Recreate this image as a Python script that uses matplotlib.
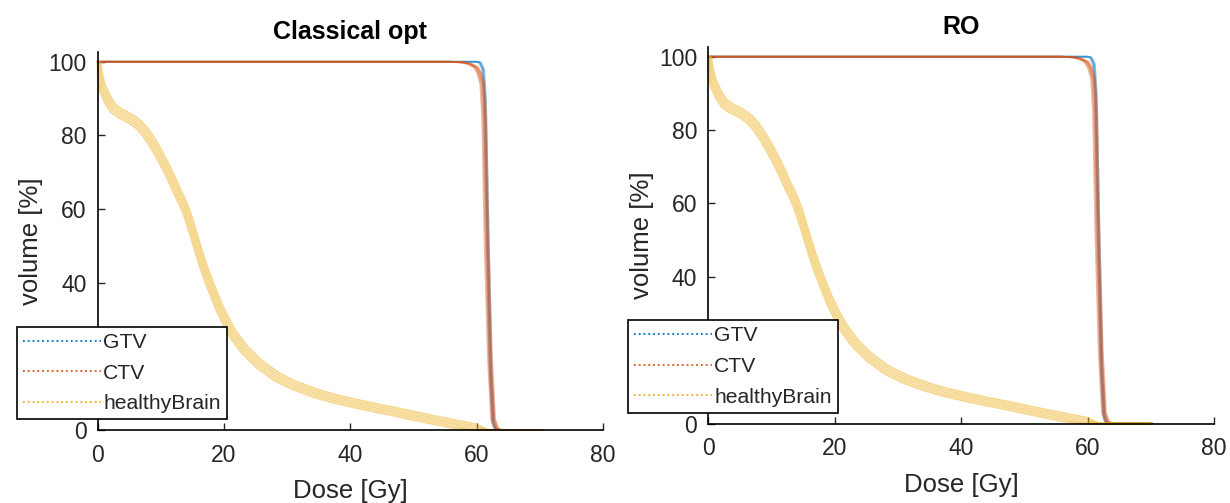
import numpy as np
import matplotlib.pyplot as plt
from matplotlib.lines import Line2D

plt.rcParams['font.family'] = ['Liberation Sans', 'DejaVu Sans']

titles = ["Classical opt", "RO"]
structures = ["GTV", "CTV", "healthyBrain"]
colors = ["#0072BD", "#D95319", "#EDB120"]

# DVH curves (dose in Gy, volume in %)
gtv_dose = [0, 58, 60, 60.5, 61, 61.3, 61.7, 62.2, 62.6, 63, 70]
gtv_vol  = [100, 100, 100, 99.8, 98, 90, 55, 15, 2, 0, 0]

ctv_dose = [0, 56, 58, 59, 60, 60.5, 61, 61.3, 61.7, 62.2, 62.7, 63.2, 63.8, 70]
ctv_vol  = [100, 100, 99.8, 99.4, 98.5, 97, 94, 85, 50, 20, 3, 0.5, 0, 0]

brain_dose = [0, 0.3, 0.7, 1.1, 1.8, 2.5, 3.5, 4.5, 5.5, 6.5, 7.5, 8.5, 9.5, 10.5, 11.6, 12.7,
              13.3, 13.9, 14.5, 15.1, 15.7, 16.4, 17.3, 18.3, 19.2, 20.2, 21.5, 23.3, 25.5,
              28.3, 31, 34.5, 37.5, 40.8, 44, 47, 50, 53.3, 56.5, 59.5, 61.5, 70]
brain_vol  = [100, 96, 93, 91.5, 89, 87.3, 86, 85.2, 84.2, 82.9, 81.0, 78.5, 75.6, 72.4, 68.6, 64.3,
              62.3, 59.9, 56.9, 53.6, 50.1, 46.2, 41.7, 37.3, 33.4, 29.9, 25.8, 21.7, 18,
              14.5, 12.2, 10, 8.5, 7.2, 6, 5, 3.9, 2.7, 1.6, 0.6, 0, 0]

# error scenarios: (dose shift in Gy, volume shift in %)
gtv_scen   = [(-0.15, 0), (0, 0), (0.15, 0)]
ctv_scen   = [(-0.45, 0), (-0.25, 0), (-0.1, 0), (0.05, 0), (0.2, 0)]
brain_scen = [(-0.4, -1.0), (-0.2, -0.5), (0, 0), (0.2, 0.5), (0.4, 1.0)]

curves = [(gtv_dose, gtv_vol, gtv_scen, 0.4), (ctv_dose, ctv_vol, ctv_scen, 0.4),
          (brain_dose, brain_vol, brain_scen, 0.5)]

fig = plt.figure(figsize=(12.3, 5.03), dpi=100)
positions = [[0.0794, 0.145, 0.411, 0.752], [0.576, 0.158, 0.411, 0.749]]

for title, pos in zip(titles, positions):
    ax = fig.add_axes(pos)
    for (d, v, scen, a), c in zip(curves, colors):
        d = np.array(d, dtype=float)
        v = np.array(v, dtype=float)
        for dd, dv in scen:
            vs = np.clip(np.where(v > 0, v + dv, 0), 0, 100)
            ax.plot(np.clip(d + dd, 0, None), vs, color=c, lw=1.3, alpha=a, clip_on=False)
    ax.set_xlim(0, 80)
    ax.set_ylim(0, 102.7)
    ax.set_xticks([0, 20, 40, 60, 80])
    ax.set_yticks([0, 20, 40, 60, 80, 100])
    ax.spines['top'].set_visible(False)
    ax.spines['right'].set_visible(False)
    ax.spines['left'].set_linewidth(1.2)
    ax.spines['bottom'].set_linewidth(1.2)
    ax.tick_params(direction='in', length=5, width=1.0, labelsize=16.5, colors='#262626')
    ax.tick_params(axis='x', pad=10)
    ax.tick_params(axis='y', pad=8)
    ax.set_xlabel("Dose [Gy]", fontsize=18.5, color='#262626', labelpad=9)
    ax.set_ylabel("volume [%]", fontsize=18.5, color='#262626', labelpad=4)
    ax.set_title(title, fontsize=18, fontweight='bold', pad=9)
    handles = [Line2D([], [], color=c, ls=':', lw=1.3) for c in colors]
    leg = ax.legend(handles, structures, loc='lower left', bbox_to_anchor=(-0.16, 0.028),
                    fontsize=15.2, handlelength=3.7, handletextpad=0.1, labelspacing=0.55,
                    borderpad=0.3, borderaxespad=0, fancybox=False, framealpha=1,
                    edgecolor='black')
    leg.set_zorder(10)
    leg.get_frame().set_linewidth(1.2)
    for t in leg.get_texts():
        t.set_color('#262626')

fig.savefig("out.png", dpi=100)
